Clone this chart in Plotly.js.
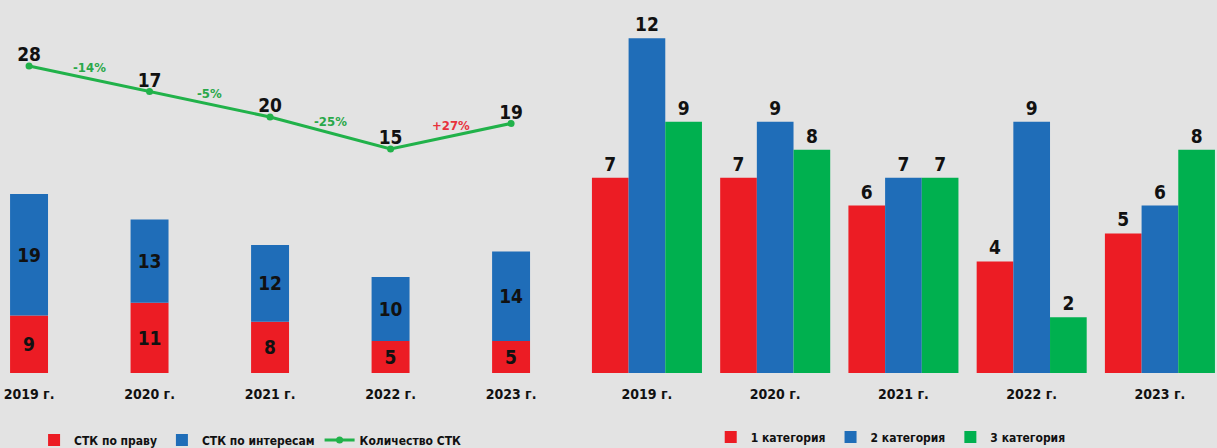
<!DOCTYPE html>
<html>
<head>
<meta charset="utf-8">
<script src="https://cdn.plot.ly/plotly-3.0.1.min.js"></script>
<style>
  html, body { margin: 0; padding: 0; background: #e3e3e3; }
  #chart { width: 1217px; height: 448px; }
</style>
</head>
<body>
<div id="chart"></div>
<script>
// ---- data ----
const years = ['2019 г.', '2020 г.', '2021 г.', '2022 г.', '2023 г.'];
const stkByLaw = [9, 11, 8, 5, 5];            // СТК по праву
const stkByInterest = [19, 13, 12, 10, 14];   // СТК по интересам
const stkCountLevel = [28, 24, 20, 15, 19];   // drawn level of the green line
const stkCountLabels = ['28', '17', '20', '15', '19']; // labels printed on the line
const changeLabels = ['-14%', '-5%', '-25%', '+27%'];
const cat1 = [7, 7, 6, 4, 5];
const cat2 = [12, 9, 7, 9, 6];
const cat3 = [9, 8, 7, 2, 8];

const FONT = '"DejaVu Sans Condensed", "Liberation Sans Narrow", "Arial Narrow", sans-serif';
const RED = '#ec1c24', BLUE = '#1f6db8', GREEN = '#00b04f', LINEGREEN = '#21b24a';
const valFont = {family: FONT, size: 19, color: '#111', weight: 'bold', stretch: 'condensed'};

const leftW = 0.315;
const rightW = 0.286;

const traces = [
  {type: 'bar', name: 'СТК по праву', x: years, y: stkByLaw, base: 0,
   width: leftW, offset: -leftW / 2, marker: {color: RED},
   text: stkByLaw.map(String), textposition: 'inside', insidetextanchor: 'middle',
   textfont: valFont, xaxis: 'x', yaxis: 'y', legend: 'legend', hoverinfo: 'skip'},
  {type: 'bar', name: 'СТК по интересам', x: years, y: stkByInterest, base: stkByLaw,
   width: leftW, offset: -leftW / 2, marker: {color: BLUE},
   text: stkByInterest.map(String), textposition: 'inside', insidetextanchor: 'middle',
   textfont: valFont, xaxis: 'x', yaxis: 'y', legend: 'legend', hoverinfo: 'skip'},
  {type: 'scatter', mode: 'lines+markers', name: 'Количество СТК', x: years, y: stkCountLevel,
   line: {color: LINEGREEN, width: 3}, marker: {color: LINEGREEN, size: 7},
   xaxis: 'x', yaxis: 'y2', legend: 'legend', cliponaxis: false, hoverinfo: 'skip'},
  {type: 'scatter', mode: 'text', x: years, y: stkCountLevel, text: stkCountLabels,
   textposition: 'top center', textfont: valFont, showlegend: false,
   xaxis: 'x', yaxis: 'y2', cliponaxis: false, hoverinfo: 'skip'},
  {type: 'bar', name: '1 категория', x: years, y: cat1, width: rightW, offset: -1.5 * rightW,
   marker: {color: RED}, text: cat1.map(String), textposition: 'outside', textfont: valFont,
   xaxis: 'x2', yaxis: 'y3', legend: 'legend2', cliponaxis: false, hoverinfo: 'skip'},
  {type: 'bar', name: '2 категория', x: years, y: cat2, width: rightW, offset: -0.5 * rightW,
   marker: {color: BLUE}, text: cat2.map(String), textposition: 'outside', textfont: valFont,
   xaxis: 'x2', yaxis: 'y3', legend: 'legend2', cliponaxis: false, hoverinfo: 'skip'},
  {type: 'bar', name: '3 категория', x: years, y: cat3, width: rightW, offset: 0.5 * rightW,
   marker: {color: GREEN}, text: cat3.map(String), textposition: 'outside', textfont: valFont,
   xaxis: 'x2', yaxis: 'y3', legend: 'legend2', cliponaxis: false, hoverinfo: 'skip'}
];

const annotations = changeLabels.map((lab, i) => ({
  x: i + 0.5, y: (stkCountLevel[i] + stkCountLevel[i + 1]) / 2, xref: 'x', yref: 'y2',
  text: lab, showarrow: false, yshift: 11,
  font: {family: FONT, size: 13, weight: 'bold', stretch: 'condensed',
         color: lab.startsWith('+') ? '#e8323c' : '#2aa84a'}
}));

const tickFont = {family: FONT, size: 14, color: '#111', weight: 'bold', stretch: 'condensed'};
const hiddenY = {showgrid: false, zeroline: false, showticklabels: false, showline: false, ticks: ''};
const legFont = {family: FONT, size: 12, color: '#111', weight: 'bold', stretch: 'condensed'};

const layout = {
  width: 1217, height: 448,
  margin: {l: 0, r: 0, t: 20, b: 75, autoexpand: false},
  paper_bgcolor: '#e3e3e3', plot_bgcolor: '#e3e3e3',
  barmode: 'overlay',
  showlegend: true,
  xaxis: {domain: [0, 560 / 1217], type: 'category', range: [-0.241, 4.406],
          showgrid: false, zeroline: false, showline: false, ticks: '',
          tickfont: tickFont, ticklabelstandoff: 11},
  yaxis: Object.assign({domain: [0, 1], range: [0, 55.2]}, hiddenY),
  yaxis2: Object.assign({overlaying: 'y', range: [-20.1, 35.2]}, hiddenY),
  xaxis2: {domain: [585 / 1217, 1], type: 'category', range: [-0.483, 4.445], anchor: 'y3',
           showgrid: false, zeroline: false, showline: false, ticks: '',
           tickfont: tickFont, ticklabelstandoff: 11},
  yaxis3: Object.assign({domain: [0, 1], range: [0, 12.65], anchor: 'x2'}, hiddenY),
  legend: {orientation: 'h', x: 0.028, xanchor: 'left', y: -0.19, yanchor: 'middle',
           font: legFont, bgcolor: 'rgba(0,0,0,0)', traceorder: 'normal'},
  legend2: {orientation: 'h', x: 0.584, xanchor: 'left', y: -0.181, yanchor: 'middle',
            font: legFont, bgcolor: 'rgba(0,0,0,0)', traceorder: 'normal'},
  annotations: annotations
};

Plotly.newPlot('chart', traces, layout, {staticPlot: true, displayModeBar: false});
</script>
</body>
</html>
